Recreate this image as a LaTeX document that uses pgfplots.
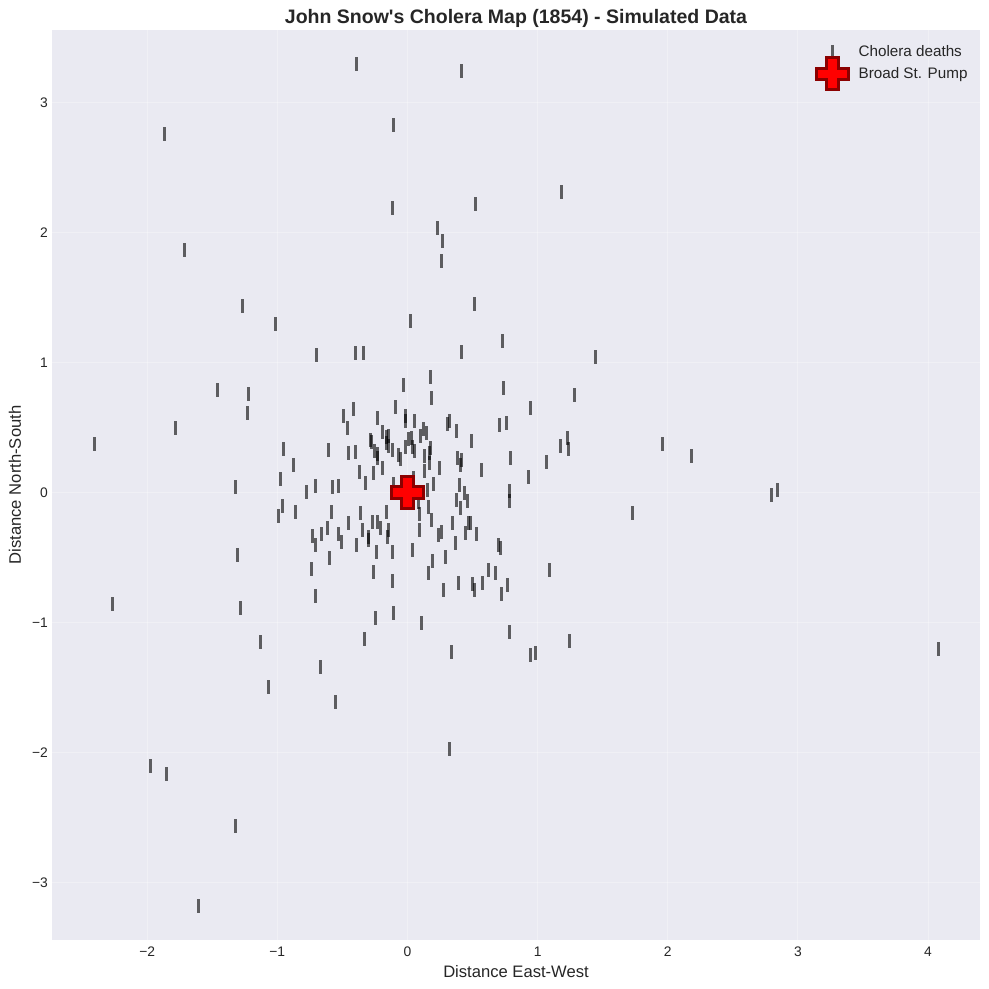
\documentclass[border=0pt]{standalone}
\usepackage{pgfplots}
\pgfplotsset{compat=1.18}
\usepackage{fontspec}
\setmainfont{Liberation Sans}[Ligatures=TeXOff]
\definecolor{bgc}{HTML}{EAEAF2}
\definecolor{txt}{HTML}{262626}
\definecolor{pumpedge}{HTML}{8B0000}
\pgfdeclareplotmark{fatplus}{%
  \pgfmathsetlengthmacro{\L}{\pgfplotmarksize}%
  \pgfmathsetlengthmacro{\W}{0.36*\pgfplotmarksize}%
  \pgfpathmoveto{\pgfqpoint{-\W}{\L}}%
  \pgfpathlineto{\pgfqpoint{\W}{\L}}%
  \pgfpathlineto{\pgfqpoint{\W}{\W}}%
  \pgfpathlineto{\pgfqpoint{\L}{\W}}%
  \pgfpathlineto{\pgfqpoint{\L}{-\W}}%
  \pgfpathlineto{\pgfqpoint{\W}{-\W}}%
  \pgfpathlineto{\pgfqpoint{\W}{-\L}}%
  \pgfpathlineto{\pgfqpoint{-\W}{-\L}}%
  \pgfpathlineto{\pgfqpoint{-\W}{-\W}}%
  \pgfpathlineto{\pgfqpoint{-\L}{-\W}}%
  \pgfpathlineto{\pgfqpoint{-\L}{\W}}%
  \pgfpathlineto{\pgfqpoint{-\W}{\W}}%
  \pgfpathclose
  \pgfusepathqfillstroke
}
\begin{document}
\begin{tikzpicture}[x=1pt,y=1pt]
\useasboundingbox (-37.58pt,-35.41pt) rectangle (677.14pt,679.34pt);
\begin{axis}[
  at={(0pt,0pt)},anchor=south west,
  scale only axis,
  width=670.67pt,height=657.66pt,
  xmin=-2.731,xmax=4.399,ymin=-3.442,ymax=3.558,
  axis line style={draw=none},
  axis background/.style={fill=bgc},
  major tick length=0pt,
  grid=major,
  grid style={white,opacity=0.3,line width=0.8pt},
  xtick={-2,-1,0,1,2,3,4},
  xticklabels={−2,−1,0,1,2,3,4},
  ytick={-3,-2,-1,0,1,2,3},
  yticklabels={−3,−2,−1,0,1,2,3},
  tick label style={font=\fontsize{10}{12}\selectfont,text=txt},
  xticklabel style={yshift=-1.2pt},
  yticklabel style={xshift=0.5pt},
  title={\fontsize{14.1}{16}\selectfont\bfseries John Snow's Cholera Map (1854) - Simulated Data},
  title style={text=txt,at={(0.5,1)},anchor=base,yshift=-1.4pt},
  xlabel={Distance East-West},
  ylabel={Distance North-South},
  label style={font=\fontsize{12}{14}\selectfont,text=txt},
  xlabel style={at={(0.5,0)},anchor=base,yshift=-27pt},
  ylabel style={at={(0,0.5)},anchor=base,rotate=0,yshift=22.5pt},
  legend style={at={(0.9913,0.987)},anchor=north east,draw=none,fill=none,
    font=\fontsize{11}{13}\selectfont,text=txt,row sep=-0.7pt,
    nodes={inner sep=0pt}},
  legend cell align=left,
  legend image code/.code={%
    \draw[mark repeat=2,mark phase=2,#1] plot coordinates {(0pt,0pt)(10pt,0pt)(20pt,0pt)};
    \path (28.6pt,0pt);
  },
]
\addplot[draw=none,mark=none,forget plot,
  x filter/.expression={(floor(130.15*x+407.64)+0.5-407.44)/130.15},
  y filter/.expression={(492.54-round(492.54-130*y))/130},
  error bars/.cd,y dir=both,y fixed=0.05385,error mark=none,
  error bar style={draw=black,solid,line width=2.17pt,draw opacity=0.6}]
table[row sep=\\] {
x y\\
-0.396 3.296\\ 0.411 3.242\\ -0.111 2.827\\ -1.871 2.758\\ 1.179 2.312\\ 0.519 2.219\\
-0.119 2.188\\ 0.227 2.035\\ 0.265 1.935\\ -1.717 1.865\\ 0.257 1.781\\ 0.511 1.450\\
-1.272 1.435\\ -1.018 1.296\\ 0.019 1.319\\ 0.726 1.165\\ -0.703 1.058\\ -0.403 1.073\\
-0.342 1.073\\ 0.411 1.081\\ 1.441 1.042\\ -1.464 0.788\\ -1.225 0.758\\ -1.233 0.612\\
-1.786 0.496\\ -2.409 0.373\\ 1.279 0.750\\ 1.225 0.419\\ 1.233 0.335\\ 1.172 0.358\\
1.955 0.373\\ 2.178 0.281\\ 2.839 0.019\\ 2.793 -0.019\\ 1.725 -0.158\\ -1.325 0.042\\
-1.310 -0.481\\ -2.270 -0.858\\ -1.287 -0.888\\ -1.133 -1.150\\ -1.072 -1.496\\ -0.672 -1.342\\
-0.557 -1.612\\ -0.334 -1.127\\ 0.104 -1.004\\ 0.334 -1.227\\ 0.319 -1.973\\ 0.780 -1.073\\
0.941 -1.250\\ 0.980 -1.235\\ 1.241 -1.142\\ 4.076 -1.204\\ -1.978 -2.104\\ -1.855 -2.165\\
-1.325 -2.565\\ -1.610 -3.181\\ 1.087 -0.596\\
-0.032 0.825\\ -0.094 0.655\\ -0.416 0.640\\ -0.493 0.586\\ -0.463 0.494\\ -0.232 0.571\\
-0.017 0.588\\ -0.017 0.550\\ -0.194 0.463\\ -0.148 0.435\\ -0.163 0.425\\ -0.286 0.404\\
-0.278 0.386\\ 0.006 0.409\\ -0.014 0.348\\ -0.165 0.381\\ -0.148 0.358\\ -0.117 0.325\\
-0.255 0.317\\ -0.232 0.296\\ -0.232 0.265\\ -0.071 0.286\\ -0.055 0.255\\ -0.954 0.332\\
-0.608 0.325\\ -0.455 0.302\\ -0.401 0.309\\ -0.877 0.209\\ -0.977 0.102\\ -0.370 0.155\\
-0.263 0.148\\ -0.194 0.186\\ -0.324 0.071\\ -0.708 0.048\\ -0.778 0.002\\ -0.578 0.040\\
-0.532 0.048\\ -0.109 0.065\\
0.175 0.886\\ 0.183 0.725\\ 0.736 0.802\\ 0.943 0.648\\ 0.052 0.548\\ 0.306 0.525\\
0.321 0.548\\ 0.375 0.471\\ 0.121 0.488\\ 0.144 0.455\\ 0.098 0.432\\ 0.705 0.517\\
0.759 0.532\\ 0.490 0.394\\ 0.029 0.417\\ 0.037 0.348\\ 0.052 0.317\\ 0.175 0.340\\
0.167 0.302\\ 0.129 0.278\\ 0.167 0.225\\ 0.129 0.163\\ 0.244 0.186\\ 0.383 0.263\\
0.413 0.248\\ 0.409 0.209\\ 0.567 0.171\\ 0.790 0.263\\ 1.066 0.232\\ 0.928 0.117\\
0.782 0.012\\ 0.198 0.063\\ 0.152 0.019\\ 0.398 0.055\\ 0.436 -0.006\\ 0.045 0.112\\
0.375 -0.060\\ 0.459 -0.068\\ 0.406 -0.122\\ 0.780 -0.065\\ 0.083 -0.071\\ 0.160 -0.114\\
0.091 -0.168\\ -0.037 -0.081\\ 0.045 -0.081\\ 0.183 -0.214\\ 0.344 -0.237\\ 0.467 -0.237\\
0.482 -0.237\\ 0.444 -0.314\\ 0.529 -0.322\\ 0.091 -0.291\\ 0.260 -0.306\\ 0.237 -0.329\\
0.367 -0.391\\ 0.698 -0.406\\ 0.713 -0.429\\ 0.037 -0.445\\ 0.290 -0.498\\ 0.191 -0.529\\
0.160 -0.622\\ 0.621 -0.598\\ 0.675 -0.622\\ 0.390 -0.698\\ 0.498 -0.706\\ 0.513 -0.752\\
0.575 -0.698\\ 0.767 -0.714\\ 0.721 -0.783\\ 0.275 -0.752\\
-0.962 -0.106\\ -0.993 -0.183\\ -0.862 -0.152\\ -0.585 -0.152\\ -0.363 -0.160\\ -0.163 -0.152\\
-0.455 -0.237\\ -0.270 -0.229\\ -0.232 -0.229\\ -0.209 -0.275\\ -0.347 -0.291\\ -0.148 -0.291\\
-0.155 -0.345\\ -0.616 -0.275\\ -0.662 -0.322\\ -0.731 -0.337\\ -0.708 -0.406\\ -0.532 -0.322\\
-0.509 -0.383\\ -0.301 -0.342\\ -0.301 -0.365\\ -0.393 -0.406\\ -0.240 -0.460\\ -0.117 -0.460\\
-0.601 -0.506\\ -0.739 -0.591\\ -0.263 -0.614\\ -0.117 -0.683\\ -0.708 -0.798\\ -0.247 -0.968\\
-0.109 -0.929\\
};
\addlegendimage{only marks,mark=|,mark size=5.05pt,mark options={draw=black,line width=2.17pt,opacity=0.6}}
\addlegendentry{Cholera deaths}
\addplot[only marks,mark=fatplus,mark size=11.5pt,mark options={draw=pumpedge,fill=red,line width=2.1pt}]
table[row sep=\\] {
x y\\
0 0\\
};
\addlegendentry{Broad St. Pump}
\end{axis}
\end{tikzpicture}
\end{document}
